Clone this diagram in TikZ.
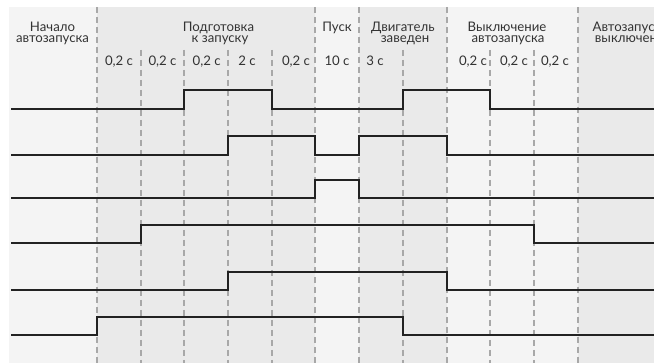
\documentclass[tikz,border=0pt]{standalone}
\usepackage{fontspec}
\setmainfont{Lato}
\definecolor{panelLight}{HTML}{F4F4F4}
\definecolor{panelDark}{HTML}{EAEAEA}
\definecolor{sepgray}{HTML}{A8A8A8}
\definecolor{sigcol}{HTML}{222222}
\definecolor{textcol}{HTML}{333333}
\begin{document}
\begin{tikzpicture}[x=1pt,y=-1pt,
  panelL/.style={fill=panelLight},
  panelD/.style={fill=panelDark},
  sep/.style={draw=sepgray, line width=1.1pt, dash pattern=on 6pt off 4pt},
  sig/.style={draw=sigcol, line width=2.4pt, line join=miter, line cap=butt},
  head/.style={font=\fontsize{13.2}{10}\selectfont, inner sep=0pt, text=textcol, anchor=base, text height=7pt, text depth=0pt},
  dur/.style={font=\fontsize{13.2}{10}\selectfont, inner sep=0pt, text=textcol, anchor=base}]
\useasboundingbox (0,0) rectangle (654,363);
\clip (0,0) rectangle (654,363);
% panels
\fill[panelL] (9,7) rectangle (97,363);
\fill[panelD] (97,7) rectangle (315,363);
\fill[panelL] (315,7) rectangle (359,363);
\fill[panelD] (359,7) rectangle (447,363);
\fill[panelL] (447,7) rectangle (578,363);
\fill[panelD] (578,7) rectangle (654,363);
% separators
\foreach \x in {97,315,359,447,578} \draw[sep] (\x,7) -- (\x,363);
\foreach \x in {141,184,228,272,403,490,534} \draw[sep] (\x,50) -- (\x,363);
% headers
\node[head] (h1a) at (52.5,31.8) {Начало};
\node[head] (h1b) at (52.5,42.6) {автозапуска};
\node[head] (h2a) at (218.5,31.8) {Подготовка};
\node[head] (h2b) at (220,42.6) {к запуску};
\node[head] (h3a) at (337,31.8) {Пуск};
\node[head] (h4a) at (402.8,31.8) {Двигатель};
\node[head] (h4b) at (405,42.6) {заведен};
\node[head] (h5a) at (507,31.8) {Выключение};
\node[head] (h5b) at (508,42.6) {автозапуска};
\node[head] (h6a) at (627,31.8) {Автозапуск};
\node[head] (h6b) at (626,42.6) {выключен};
% durations
\node[dur] (d1) at (119,65.5) {0,2 с};
\node[dur] (d2) at (162.5,65.5) {0,2 с};
\node[dur] (d3) at (206.7,65.5) {0,2 с};
\node[dur] (d4) at (247,65.5) {2 с};
\node[dur] (d5) at (296,65.5) {0,2 с};
\node[dur] (d6) at (337,65.5) {10 с};
\node[dur] (d7) at (375,65.5) {3 с};
\node[dur] (d8) at (473,65.5) {0,2 с};
\node[dur] (d9) at (514,65.5) {0,2 с};
\node[dur] (d10) at (555,65.5) {0,2 с};
% signals
\draw[sig] (11,109) -| (184,90) -| (272,109) -| (403,90) -| (490,109) -- (655,109);
\draw[sig] (11,155) -| (228,136) -| (315,155) -| (359,136) -| (447,155) -- (655,155);
\draw[sig] (11,198) -| (315,180) -| (359,198) -- (655,198);
\draw[sig] (11,243) -| (141,225) -| (534,243) -- (655,243);
\draw[sig] (11,290) -| (228,272) -| (447,290) -- (655,290);
\draw[sig] (11,335) -| (97,317) -| (403,335) -- (655,335);
\end{tikzpicture}
\end{document}
